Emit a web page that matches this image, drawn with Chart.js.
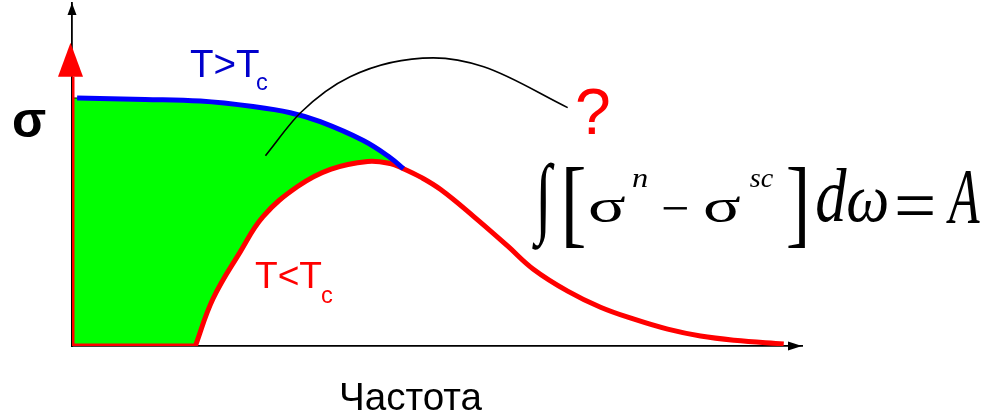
<!DOCTYPE html>
<html lang="ru">
<head>
<meta charset="utf-8">
<title>Частота</title>
<script src="https://cdn.jsdelivr.net/npm/chart.js@4/dist/chart.umd.min.js"></script>
<style>
  html, body { margin: 0; padding: 0; background: #fff; }
  #wrap { width: 998px; height: 417px; }
</style>
</head>
<body>
<div id="wrap"><canvas id="sigmaChart" width="998" height="417"></canvas></div>
<script>
// ====== DATA ======
// normal state, T>Tc
const normalFreq  = [0.07, 1.00, 1.76, 2.48, 2.99, 3.40, 3.99, 4.36, 4.54];
const normalSigma = [7.23, 7.19, 7.14, 6.98, 6.80, 6.54, 5.99, 5.49, 5.17];

// superconducting state, T<Tc (gap edge at ~1.69)
const scFreq  = [1.69, 1.93, 2.30, 2.62, 3.09, 3.54, 4.05, 4.36, 4.54, 4.77, 5.05, 5.50, 5.97, 6.32, 6.79, 7.24, 7.70, 8.16, 8.61, 9.07, 9.75];
const scSigma = [0.00, 1.37, 2.73, 3.78, 4.65, 5.15, 5.38, 5.32, 5.17, 4.93, 4.56, 3.78, 2.91, 2.24, 1.60, 1.13, 0.78, 0.49, 0.29, 0.17, 0.06];

// delta-function at zero frequency (stem top and arrow tip)
const deltaFreq = 0;
const deltaStem = 7.85;
const deltaTip  = 8.84;

// thin pointer from the missing area to the question mark
const pointerFreq  = [2.65, 3.13, 3.81, 4.95, 5.64, 6.79];
const pointerSigma = [5.55, 6.80, 7.85, 8.40, 8.14, 6.95];

const freqMin = 0, freqMax = 10;
const sigmaMin = 0, sigmaMax = 10;

// ====== UTILS ======
const pts = (xs, ys) => xs.map((x, i) => ({ x, y: ys[i] }));

// lost spectral weight: between the normal curve and the gapped curve
const junction = normalFreq[normalFreq.length - 1];
const scRise = pts(scFreq, scSigma).filter(p => p.x <= junction).reverse();
const areaPts = [
  { x: freqMin, y: 0 },
  { x: freqMin, y: normalSigma[0] },
  ...pts(normalFreq, normalSigma),
  ...scRise,
  { x: freqMin, y: 0 }
];

// draw text so that its ink fills the box [left..right] x [top..bottom]
function fitBox(ctx, text, prefix, family, color, left, top, right, bottom) {
  ctx.font = `${prefix} 100px ${family}`;
  const m = ctx.measureText(text);
  const w = m.actualBoundingBoxLeft + m.actualBoundingBoxRight;
  const h = m.actualBoundingBoxAscent + m.actualBoundingBoxDescent;
  ctx.save();
  ctx.translate(left, top);
  ctx.scale((right - left) / w, (bottom - top) / h);
  ctx.fillStyle = color;
  ctx.textAlign = "left";
  ctx.textBaseline = "alphabetic";
  ctx.fillText(text, m.actualBoundingBoxLeft, m.actualBoundingBoxAscent);
  ctx.restore();
}

// draw text so that its ink fills [top, bottom] with the left edge at `left`
function fitText(ctx, text, prefix, family, color, left, top, bottom) {
  ctx.font = `${prefix} 100px ${family}`;
  let m = ctx.measureText(text);
  const k = (bottom - top) / (m.actualBoundingBoxAscent + m.actualBoundingBoxDescent);
  ctx.font = `${prefix} ${(100 * k).toFixed(2)}px ${family}`;
  m = ctx.measureText(text);
  ctx.fillStyle = color;
  ctx.textAlign = "left";
  ctx.textBaseline = "alphabetic";
  ctx.fillText(text, left + m.actualBoundingBoxLeft, top + m.actualBoundingBoxAscent);
}

// sized by width and centred on midY (for thin glyphs like − and =)
function fitWide(ctx, text, prefix, family, color, left, right, midY) {
  ctx.font = `${prefix} 100px ${family}`;
  let m = ctx.measureText(text);
  const k = (right - left) / (m.actualBoundingBoxLeft + m.actualBoundingBoxRight);
  ctx.font = `${prefix} ${(100 * k).toFixed(2)}px ${family}`;
  m = ctx.measureText(text);
  const mid = (m.actualBoundingBoxAscent - m.actualBoundingBoxDescent) / 2;
  ctx.fillStyle = color;
  ctx.textAlign = "left";
  ctx.textBaseline = "alphabetic";
  ctx.fillText(text, left + m.actualBoundingBoxLeft, midY + mid);
}

function triangle(ctx, tipX, tipY, baseX, baseY, half, color) {
  const dx = tipX - baseX, dy = tipY - baseY;
  const len = Math.hypot(dx, dy);
  const nx = -dy / len * half, ny = dx / len * half;
  ctx.beginPath();
  ctx.moveTo(tipX, tipY);
  ctx.lineTo(baseX + nx, baseY + ny);
  ctx.lineTo(baseX - nx, baseY - ny);
  ctx.closePath();
  ctx.fillStyle = color;
  ctx.fill();
}

// ====== PLUGINS ======
const arrowsPlugin = {
  id: "arrows",
  afterDatasetsDraw(chart) {
    const { ctx, chartArea: a, scales: { x, y } } = chart;
    ctx.save();
    // axis arrowheads
    triangle(ctx, a.right, a.bottom, a.right - 14, a.bottom, 4.5, "#000");
    triangle(ctx, a.left, a.top, a.left, a.top + 12, 4.5, "#000");
    // delta peak arrowhead
    const px = x.getPixelForValue(deltaFreq);
    triangle(ctx, px - 1.5, y.getPixelForValue(deltaTip), px - 1.5, y.getPixelForValue(deltaStem), 12.5, "#ff0000");
    ctx.restore();
  }
};

const SANS = '"Liberation Sans", Arial, sans-serif';
const SERIF = '"Liberation Serif", "Times New Roman", serif';

const labelsPlugin = {
  id: "labels",
  afterDraw(chart) {
    const ctx = chart.ctx;
    ctx.save();
    // axis labels
    fitText(ctx, "σ", "bold", SANS, "#000", 13, 110, 137);
    fitText(ctx, "Частота", "", SANS, "#000", 342, 383, 410);

    // curve labels
    fitText(ctx, "T>T", "", SANS, "#0000cc", 190, 50, 77);
    fitText(ctx, "c", "", SANS, "#0000cc", 257, 77, 90);
    fitText(ctx, "T<T", "", SANS, "#ff0000", 255, 262, 288);
    fitText(ctx, "c", "", SANS, "#ff0000", 322, 290, 303);
    fitText(ctx, "?", "", SANS, "#ff0000", 577, 88, 133);

    // sum rule
    fitBox(ctx, "∫", "bold", SERIF, "#000", 532, 162, 555, 250);
    fitBox(ctx, "[", "", SERIF, "#000", 566, 167, 584, 248);
    fitBox(ctx, "σ", "", SERIF, "#000", 590, 197, 625, 222);
    fitBox(ctx, "n", "italic", SERIF, "#000", 633, 174, 647, 187);
    fitWide(ctx, "−", "", SERIF, "#000", 663, 687, 208);
    fitBox(ctx, "σ", "", SERIF, "#000", 705, 197, 740, 222);
    fitBox(ctx, "sc", "italic", SERIF, "#000", 750, 174, 773, 187);
    fitBox(ctx, "]", "", SERIF, "#000", 788, 167, 805, 248);
    fitBox(ctx, "d", "italic", SERIF, "#000", 817, 168, 847, 222);
    fitBox(ctx, "ω", "italic", SERIF, "#000", 848, 190, 887, 222);
    fitWide(ctx, "=", "", SERIF, "#000", 897, 933, 205);
    fitBox(ctx, "A", "italic", SERIF, "#000", 946, 170, 980, 222);
    ctx.restore();
  }
};

// ====== CHART ======
const axis = (min, max, fit) => ({
  type: "linear",
  min, max,
  ticks: { display: false },
  grid: { display: true, drawOnChartArea: false, drawTicks: false },
  border: { display: true, color: "#000", width: 1.8 },
  afterFit: fit
});

new Chart(document.getElementById("sigmaChart"), {
  type: "line",
  data: {
    datasets: [
      {
        // pointer line
        data: pts(pointerFreq, pointerSigma),
        borderColor: "#000",
        borderWidth: 1.6,
        cubicInterpolationMode: "monotone",
        pointRadius: 0,
        fill: false,
        order: 0
      },
      {
        // T>Tc
        data: pts(normalFreq, normalSigma),
        borderColor: "#0000ff",
        borderWidth: 5,
        tension: 0.4,
        pointRadius: 0,
        fill: false,
        order: 1
      },
      {
        // T<Tc, above the gap
        data: pts(scFreq, scSigma),
        borderColor: "#ff0000",
        borderWidth: 5,
        tension: 0.4,
        pointRadius: 0,
        fill: false,
        order: 2
      },
      {
        // T<Tc, zero inside the gap
        data: [{ x: freqMin, y: 0 }, { x: scFreq[0], y: scSigma[0] }],
        borderColor: "#ff0000",
        borderWidth: 5,
        borderCapStyle: "square",
        pointRadius: 0,
        fill: false,
        order: 2
      },
      {
        // T<Tc, delta-function stem
        data: [{ x: deltaFreq, y: 0 }, { x: deltaFreq, y: deltaStem }],
        borderColor: "#ff0000",
        borderWidth: 5,
        pointRadius: 0,
        fill: false,
        order: 2
      },
      {
        // missing area
        data: areaPts,
        borderColor: "#000",
        borderWidth: 1,
        backgroundColor: "#00ff00",
        tension: 0,
        pointRadius: 0,
        fill: "shape",
        order: 5
      }
    ]
  },
  options: {
    responsive: false,
    devicePixelRatio: 1,
    animation: false,
    events: [],
    layout: { padding: { left: 72, right: 196, top: 3, bottom: 71 } },
    scales: {
      x: axis(freqMin, freqMax, s => { s.height = 0; }),
      y: axis(sigmaMin, sigmaMax, s => { s.width = 0; })
    },
    plugins: { legend: { display: false }, tooltip: { enabled: false } }
  },
  plugins: [arrowsPlugin, labelsPlugin]
});
</script>
</body>
</html>
